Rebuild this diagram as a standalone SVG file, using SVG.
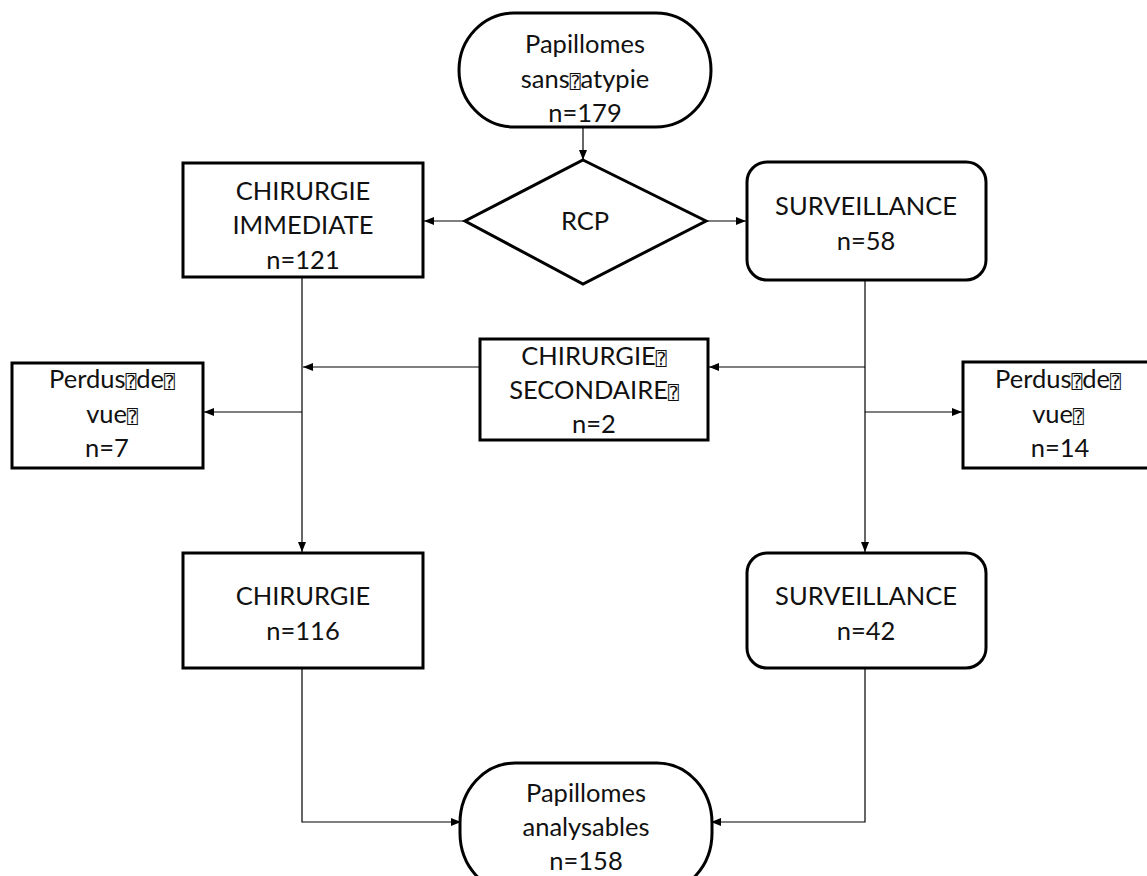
<svg xmlns="http://www.w3.org/2000/svg" width="1147" height="876" viewBox="0 0 1147 876">
<style>
.box{fill:#fff;stroke:#000;stroke-width:3}
.ln{fill:none;stroke:#000;stroke-width:1.2}
text{font-family:"Lato","Liberation Sans",sans-serif;font-size:25.5px;fill:#111;text-anchor:middle}
.q{font-family:"DejaVu Sans Mono","DejaVu Sans",monospace;font-size:18px}
</style>
<defs>
<marker id="ah" viewBox="0 0 10 10" refX="10" refY="5" markerWidth="10" markerHeight="10" markerUnits="userSpaceOnUse" orient="auto">
<path d="M0,1 L10,5 L0,9 Z" fill="#000"/>
</marker>
</defs>
<rect width="1147" height="876" fill="#fff"/>
<g id="connectors">
<line class="ln" x1="583" y1="127" x2="583" y2="160" marker-end="url(#ah)"/>
<line class="ln" x1="465" y1="221" x2="424" y2="221" marker-end="url(#ah)"/>
<line class="ln" x1="706" y1="221" x2="746" y2="221" marker-end="url(#ah)"/>
<line class="ln" x1="302" y1="277" x2="302" y2="552" marker-end="url(#ah)"/>
<line class="ln" x1="865" y1="280" x2="865" y2="552" marker-end="url(#ah)"/>
<line class="ln" x1="480" y1="367" x2="303" y2="367" marker-end="url(#ah)"/>
<line class="ln" x1="865" y1="367" x2="709" y2="367" marker-end="url(#ah)"/>
<line class="ln" x1="302" y1="412" x2="204" y2="412" marker-end="url(#ah)"/>
<line class="ln" x1="865" y1="412" x2="962" y2="412" marker-end="url(#ah)"/>
<polyline class="ln" points="302,668 302,822 461,822" marker-end="url(#ah)"/>
<polyline class="ln" points="865,668 865,822 711,822" marker-end="url(#ah)"/>
</g>
<g id="start">
<rect class="box" x="459" y="13" width="252" height="114" rx="55" ry="57"/>
<text x="585" y="53">Papillomes</text>
<text x="585" y="88">sans<tspan class="q">⍰</tspan>atypie</text>
<text x="585" y="122">n=179</text>
</g>
<g id="rcp">
<polygon class="box" points="583,160 706,221 583,284 465,221"/>
<text x="585" y="230">RCP</text>
</g>
<g id="chir-imm">
<rect class="box" x="183" y="163" width="240" height="114"/>
<text x="303" y="200">CHIRURGIE</text>
<text x="303" y="234">IMMEDIATE</text>
<text x="303" y="269">n=121</text>
</g>
<g id="surv1">
<rect class="box" x="747" y="162" width="239" height="118" rx="20" ry="20"/>
<text x="866" y="215">SURVEILLANCE</text>
<text x="866" y="250">n=58</text>
</g>
<g id="chir-sec">
<rect class="box" x="480" y="339" width="228" height="101"/>
<text x="594" y="365">CHIRURGIE<tspan class="q">⍰</tspan></text>
<text x="594" y="399">SECONDAIRE<tspan class="q">⍰</tspan></text>
<text x="594" y="433">n=2</text>
</g>
<g id="perdus-left">
<rect class="box" x="12" y="363" width="191" height="105"/>
<text x="112" y="388">Perdus<tspan class="q">⍰</tspan>de<tspan class="q">⍰</tspan></text>
<text x="112" y="423">vue<tspan class="q">⍰</tspan></text>
<text x="107" y="457">n=7</text>
</g>
<g id="perdus-right">
<rect class="box" x="963" y="362" width="200" height="106"/>
<text x="1058" y="388">Perdus<tspan class="q">⍰</tspan>de<tspan class="q">⍰</tspan></text>
<text x="1058" y="423">vue<tspan class="q">⍰</tspan></text>
<text x="1060" y="457">n=14</text>
</g>
<g id="chir">
<rect class="box" x="183" y="553" width="240" height="115"/>
<text x="303" y="605">CHIRURGIE</text>
<text x="303" y="640">n=116</text>
</g>
<g id="surv2">
<rect class="box" x="747" y="553" width="239" height="115" rx="20" ry="20"/>
<text x="866" y="605">SURVEILLANCE</text>
<text x="866" y="640">n=42</text>
</g>
<g id="end">
<rect class="box" x="460" y="763" width="252" height="130" rx="55" ry="60"/>
<text x="586" y="802">Papillomes</text>
<text x="586" y="836">analysables</text>
<text x="586" y="870">n=158</text>
</g>
</svg>
